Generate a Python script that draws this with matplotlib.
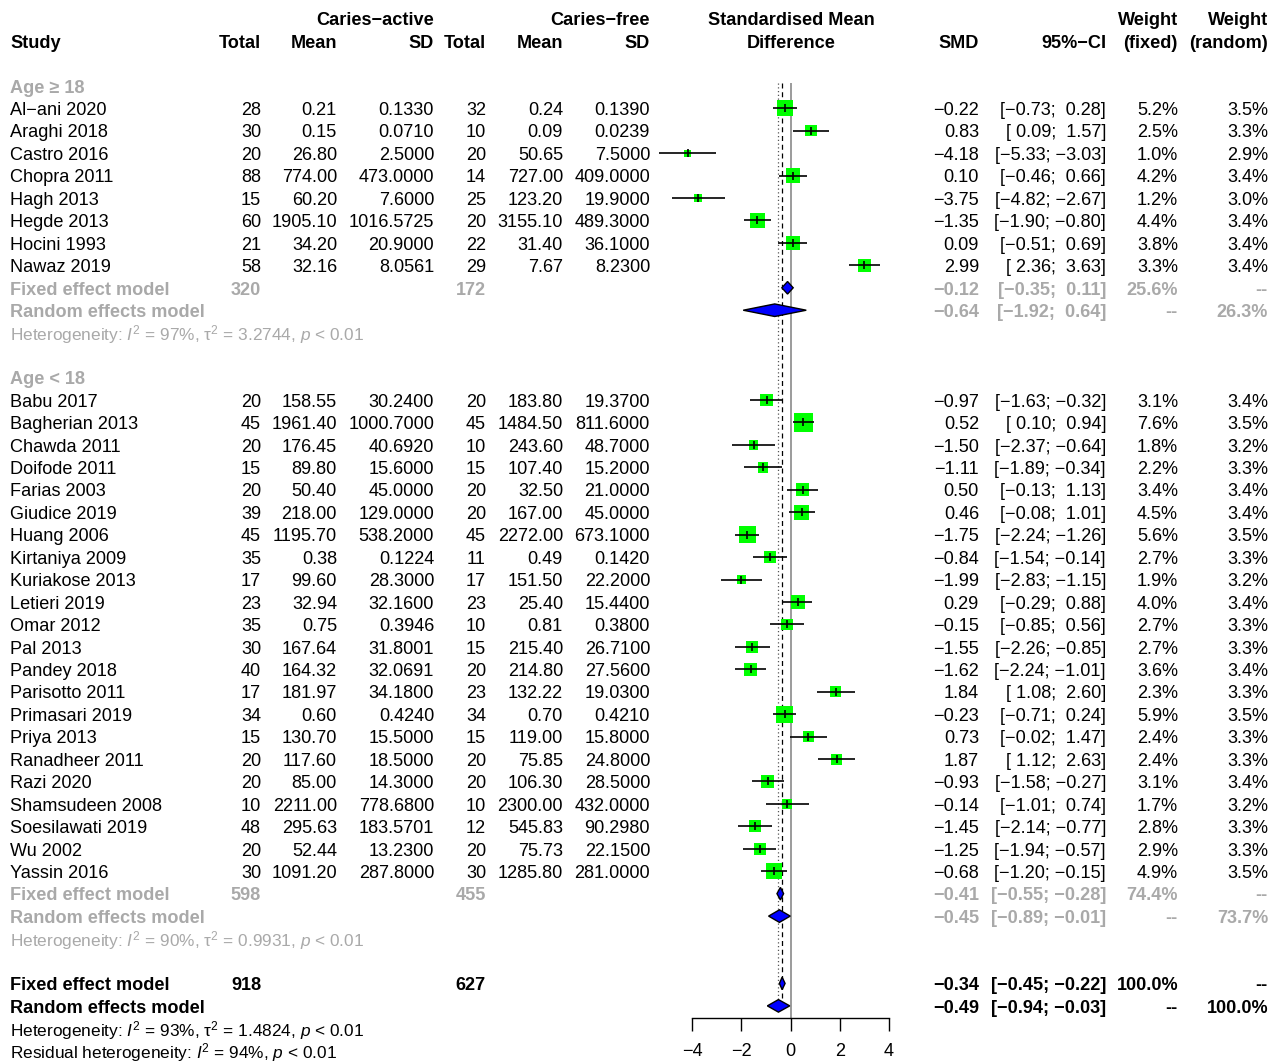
import numpy as np
import matplotlib
matplotlib.use("Agg")
import matplotlib.pyplot as plt

plt.rcParams['font.family'] = ['Liberation Sans', 'DejaVu Sans']
plt.rcParams['mathtext.fontset'] = 'custom'
plt.rcParams['mathtext.rm'] = 'Liberation Sans'
plt.rcParams['mathtext.it'] = 'Liberation Sans:italic'
plt.rcParams['mathtext.bf'] = 'Liberation Sans:bold'

MINUS = '\u2212'
GRAY = '#A9A9A9'

# ---- Age >= 18 ----
adult_study = ["Al-ani 2020", "Araghi 2018", "Castro 2016", "Chopra 2011",
               "Hagh 2013", "Hegde 2013", "Hocini 1993", "Nawaz 2019"]
adult_n_a = [28, 30, 20, 88, 15, 60, 21, 58]
adult_mean_a = [0.21, 0.15, 26.80, 774.00, 60.20, 1905.10, 34.20, 32.16]
adult_sd_a = [0.1330, 0.0710, 2.5000, 473.0000, 7.6000, 1016.5725, 20.9000, 8.0561]
adult_n_f = [32, 10, 20, 14, 25, 20, 22, 29]
adult_mean_f = [0.24, 0.09, 50.65, 727.00, 123.20, 3155.10, 31.40, 7.67]
adult_sd_f = [0.1390, 0.0239, 7.5000, 409.0000, 19.9000, 489.3000, 36.1000, 8.2300]
adult_smd = [-0.22, 0.83, -4.18, 0.10, -3.75, -1.35, 0.09, 2.99]
adult_lo = [-0.73, 0.09, -5.33, -0.46, -4.82, -1.90, -0.51, 2.36]
adult_hi = [0.28, 1.57, -3.03, 0.66, -2.67, -0.80, 0.69, 3.63]
adult_wf = [5.2, 2.5, 1.0, 4.2, 1.2, 4.4, 3.8, 3.3]
adult_wr = [3.5, 3.3, 2.9, 3.4, 3.0, 3.4, 3.4, 3.4]
adult_tot = [320, 172]
adult_fixed = [-0.12, -0.35, 0.11, 25.6]
adult_random = [-0.64, -1.92, 0.64, 26.3]
adult_het = ["97%", "3.2744"]

# ---- Age < 18 ----
child_study = ["Babu 2017", "Bagherian 2013", "Chawda 2011", "Doifode 2011",
               "Farias 2003", "Giudice 2019", "Huang 2006", "Kirtaniya 2009",
               "Kuriakose 2013", "Letieri 2019", "Omar 2012", "Pal 2013",
               "Pandey 2018", "Parisotto 2011", "Primasari 2019", "Priya 2013",
               "Ranadheer 2011", "Razi 2020", "Shamsudeen 2008",
               "Soesilawati 2019", "Wu 2002", "Yassin 2016"]
child_n_a = [20, 45, 20, 15, 20, 39, 45, 35, 17, 23, 35, 30, 40, 17, 34, 15,
             20, 20, 10, 48, 20, 30]
child_mean_a = [158.55, 1961.40, 176.45, 89.80, 50.40, 218.00, 1195.70, 0.38,
                99.60, 32.94, 0.75, 167.64, 164.32, 181.97, 0.60, 130.70,
                117.60, 85.00, 2211.00, 295.63, 52.44, 1091.20]
child_sd_a = [30.2400, 1000.7000, 40.6920, 15.6000, 45.0000, 129.0000,
              538.2000, 0.1224, 28.3000, 32.1600, 0.3946, 31.8001, 32.0691,
              34.1800, 0.4240, 15.5000, 18.5000, 14.3000, 778.6800, 183.5701,
              13.2300, 287.8000]
child_n_f = [20, 45, 10, 15, 20, 20, 45, 11, 17, 23, 10, 15, 20, 23, 34, 15,
             20, 20, 10, 12, 20, 30]
child_mean_f = [183.80, 1484.50, 243.60, 107.40, 32.50, 167.00, 2272.00, 0.49,
                151.50, 25.40, 0.81, 215.40, 214.80, 132.22, 0.70, 119.00,
                75.85, 106.30, 2300.00, 545.83, 75.73, 1285.80]
child_sd_f = [19.3700, 811.6000, 48.7000, 15.2000, 21.0000, 45.0000, 673.1000,
              0.1420, 22.2000, 15.4400, 0.3800, 26.7100, 27.5600, 19.0300,
              0.4210, 15.8000, 24.8000, 28.5000, 432.0000, 90.2980, 22.1500,
              281.0000]
child_smd = [-0.97, 0.52, -1.50, -1.11, 0.50, 0.46, -1.75, -0.84, -1.99, 0.29,
             -0.15, -1.55, -1.62, 1.84, -0.23, 0.73, 1.87, -0.93, -0.14, -1.45,
             -1.25, -0.68]
child_lo = [-1.63, 0.10, -2.37, -1.89, -0.13, -0.08, -2.24, -1.54, -2.83, -0.29,
            -0.85, -2.26, -2.24, 1.08, -0.71, -0.02, 1.12, -1.58, -1.01, -2.14,
            -1.94, -1.20]
child_hi = [-0.32, 0.94, -0.64, -0.34, 1.13, 1.01, -1.26, -0.14, -1.15, 0.88,
            0.56, -0.85, -1.01, 2.60, 0.24, 1.47, 2.63, -0.27, 0.74, -0.77,
            -0.57, -0.15]
child_wf = [3.1, 7.6, 1.8, 2.2, 3.4, 4.5, 5.6, 2.7, 1.9, 4.0, 2.7, 2.7, 3.6,
            2.3, 5.9, 2.4, 2.4, 3.1, 1.7, 2.8, 2.9, 4.9]
child_wr = [3.4, 3.5, 3.2, 3.3, 3.4, 3.4, 3.5, 3.3, 3.2, 3.4, 3.3, 3.3, 3.4,
            3.3, 3.5, 3.3, 3.3, 3.4, 3.2, 3.3, 3.3, 3.5]
child_tot = [598, 455]
child_fixed = [-0.41, -0.55, -0.28, 74.4]
child_random = [-0.45, -0.89, -0.01, 73.7]
child_het = ["90%", "0.9931"]

# ---- overall ----
all_tot = [918, 627]
all_fixed = [-0.34, -0.45, -0.22, 100.0]
all_random = [-0.49, -0.94, -0.03, 100.0]
all_het = ["93%", "1.4824"]
resid_i2 = "94%"

xticks = [-4, -2, 0, 2, 4]

# ---- layout (pixel grid of the original) ----
W, H = 1282, 1064
ROW_PX = 22.44
ROW0_PX = 18.5
R_TOP = -ROW0_PX / ROW_PX
R_BOT = (H - ROW0_PX) / ROW_PX
ZERO_PX, UNIT_PX = 790.5, 24.625
AXIS_ROW = (1018 - ROW0_PX) / ROW_PX
LINE_TOP = (83 - ROW0_PX) / ROW_PX
TXT_DY = 0.1

X_STUDY = 10
X_TOT_A, X_MEAN_A, X_SD_A = 261, 337, 434
X_TOT_F, X_MEAN_F, X_SD_F = 486, 563, 650
X_MID = 791
X_SMD, X_CI, X_WF, X_WR = 979, 1106, 1178, 1268

FS = 13.1
FS_HET = 12.4


def m(s):
    return s.replace('-', MINUS)


def f2(v):
    return m(f"{v:.2f}")


def ci(lo, hi):
    return m(f"[{lo:5.2f}; {hi:5.2f}]")


fig = plt.figure(figsize=(W / 100, H / 100), dpi=100)
ax = fig.add_axes([0, 0, 1, 1])
ax.set_xlim(0, W)
ax.set_ylim(R_BOT, R_TOP)
ax.axis('off')

fx = fig.add_axes([0, 0, 1, 1])
fx.set_xlim(-ZERO_PX / UNIT_PX, (W - ZERO_PX) / UNIT_PX)
fx.set_ylim(R_BOT, R_TOP)
fx.patch.set_visible(False)
for s in ['top', 'left', 'right']:
    fx.spines[s].set_visible(False)
fx.spines['bottom'].set_position(('data', AXIS_ROW))
fx.spines['bottom'].set_bounds(-4, 4)
fx.spines['bottom'].set_linewidth(1.0)
fx.set_yticks([])
fx.set_xticks(xticks)
fx.tick_params(axis='x', direction='out', length=9, width=1.0,
               labelsize=FS, pad=9)


def txt(x, r, s, ha='right', bold=False, color='black', size=FS):
    ax.text(x, r + TXT_DY, s, ha=ha, va='center', fontsize=size, color=color,
            fontweight='bold' if bold else 'normal')


# headers
txt(X_SD_A, 0, "Caries" + MINUS + "active", bold=True)
txt(X_SD_F, 0, "Caries" + MINUS + "free", bold=True)
txt(X_MID, 0, "Standardised Mean", ha='center', bold=True)
txt(X_WF, 0, "Weight", bold=True)
txt(X_WR, 0, "Weight", bold=True)
txt(X_STUDY, 1, "Study", ha='left', bold=True)
for x, s in [(X_TOT_A, "Total"), (X_MEAN_A, "Mean"), (X_SD_A, "SD"),
             (X_TOT_F, "Total"), (X_MEAN_F, "Mean"), (X_SD_F, "SD"),
             (X_SMD, "SMD"), (X_CI, "95%" + MINUS + "CI"),
             (X_WF, "(fixed)"), (X_WR, "(random)")]:
    txt(x, 1, s, bold=True)
txt(X_MID, 1, "Difference", ha='center', bold=True)


def diamond(r, est, lo, hi):
    h = 0.28
    fx.fill([lo, est, hi, est], [r, r - h, r, r + h], facecolor='#0000FF',
            edgecolor='black', linewidth=1.0, zorder=5)


def model_rows(r, tot, fixed, random, color):
    dash = "--"
    txt(X_STUDY, r, "Fixed effect model", ha='left', bold=True, color=color)
    txt(X_TOT_A, r, str(tot[0]), bold=True, color=color)
    txt(X_TOT_F, r, str(tot[1]), bold=True, color=color)
    txt(X_SMD, r, f2(fixed[0]), bold=True, color=color)
    txt(X_CI, r, ci(fixed[1], fixed[2]), bold=True, color=color)
    txt(X_WF, r, f"{fixed[3]:.1f}%", bold=True, color=color)
    txt(X_WR, r, dash, bold=True, color=color)
    diamond(r, *fixed[:3])
    r += 1
    txt(X_STUDY, r, "Random effects model", ha='left', bold=True, color=color)
    txt(X_SMD, r, f2(random[0]), bold=True, color=color)
    txt(X_CI, r, ci(random[1], random[2]), bold=True, color=color)
    txt(X_WF, r, dash, bold=True, color=color)
    txt(X_WR, r, f"{random[3]:.1f}%", bold=True, color=color)
    diamond(r, *random[:3])


def het_text(i2, tau2):
    return (r"Heterogeneity: $I^2$ = " + i2 + r", $\mathrm{τ}^2$ = " + tau2 +
            r", $p$ < 0.01")


def subgroup(r, label, study, n_a, mean_a, sd_a, n_f, mean_f, sd_f,
             smd, lo, hi, wf, wr, tot, fixed, random, het):
    txt(X_STUDY, r, label, ha='left', bold=True, color=GRAY)
    rows = np.arange(len(study)) + r + 1
    for i, y in enumerate(rows):
        txt(X_STUDY, y, m(study[i]), ha='left')
        txt(X_TOT_A, y, str(n_a[i]))
        txt(X_MEAN_A, y, f"{mean_a[i]:.2f}")
        txt(X_SD_A, y, f"{sd_a[i]:.4f}")
        txt(X_TOT_F, y, str(n_f[i]))
        txt(X_MEAN_F, y, f"{mean_f[i]:.2f}")
        txt(X_SD_F, y, f"{sd_f[i]:.4f}")
        txt(X_SMD, y, f2(smd[i]))
        txt(X_CI, y, ci(lo[i], hi[i]))
        txt(X_WF, y, f"{wf[i]:.1f}%")
        txt(X_WR, y, f"{wr[i]:.1f}%")
    side = 7.1 * np.sqrt(np.array(wf)) * 0.72
    fx.scatter(smd, rows, marker='s', s=side ** 2, color='#00FF00',
               edgecolor='none', zorder=3)
    fx.hlines(rows, lo, hi, color='black', linewidth=1.2, zorder=4)
    fx.scatter(smd, rows, marker='|', s=28, color='black', linewidth=1.2,
               zorder=4)
    r = rows[-1] + 1
    model_rows(r, tot, fixed, random, GRAY)
    txt(X_STUDY, r + 2, het_text(*het), ha='left', color=GRAY, size=FS_HET)
    return r + 4


r = subgroup(3, "Age \u2265 18", adult_study, adult_n_a, adult_mean_a,
             adult_sd_a, adult_n_f, adult_mean_f, adult_sd_f, adult_smd,
             adult_lo, adult_hi, adult_wf, adult_wr, adult_tot, adult_fixed,
             adult_random, adult_het)
r = subgroup(r, "Age < 18", child_study, child_n_a, child_mean_a,
             child_sd_a, child_n_f, child_mean_f, child_sd_f, child_smd,
             child_lo, child_hi, child_wf, child_wr, child_tot, child_fixed,
             child_random, child_het)
model_rows(r, all_tot, all_fixed, all_random, 'black')
txt(X_STUDY, r + 2, het_text(*all_het), ha='left', size=FS_HET)
txt(X_STUDY, r + 3, r"Residual heterogeneity: $I^2$ = " + resid_i2 +
    r", $p$ < 0.01", ha='left', size=FS_HET)

# reference lines
fx.vlines(0, LINE_TOP, AXIS_ROW, color='#808080', linewidth=1.1, zorder=2)
fx.vlines(all_fixed[0], LINE_TOP, AXIS_ROW - 0.5, color='black',
          linewidth=0.9, linestyles=(0, (4, 3)), zorder=2)
fx.vlines(all_random[0], LINE_TOP, AXIS_ROW - 0.5, color='#555555',
          linewidth=0.9, linestyles=(0, (1, 2)), zorder=2)

fig.savefig("out.png", dpi=100)
